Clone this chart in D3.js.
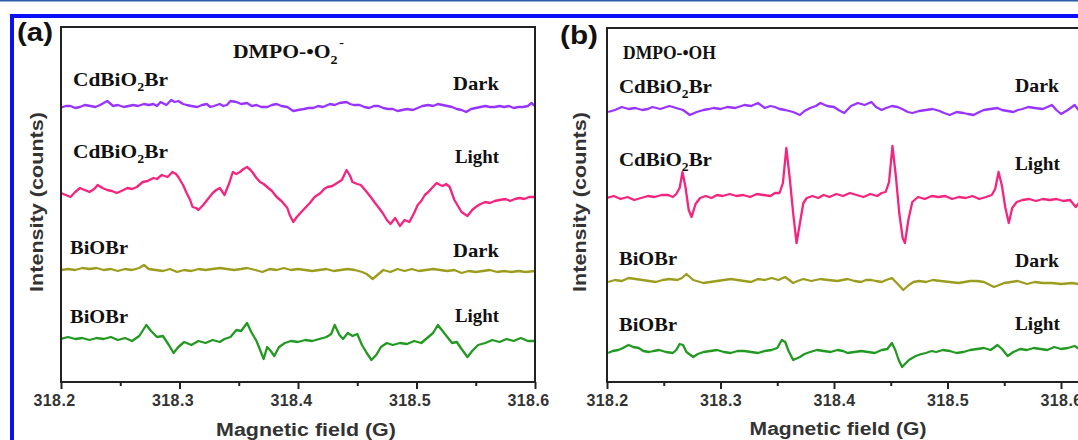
<!DOCTYPE html>
<html>
<head>
<meta charset="utf-8">
<script src="https://cdn.jsdelivr.net/npm/d3@7"></script>
<style>
  body { margin: 0; background: #fff; }
  svg { display: block; }
</style>
</head>
<body>
<div id="chart"></div>
<script>
// Axis ticks (magnetic field, G)
var fieldTicks = [318.2, 318.3, 318.4, 318.5, 318.6];
var minorTicks = [318.25, 318.35, 318.45, 318.55];

// Trace names, top to bottom
var sampleNames = ["CdBiO_2Br", "CdBiO_2Br", "BiOBr", "BiOBr"];
var conditions = ["Dark", "Light", "Dark", "Light"];
var titles = ["DMPO-•O_2^-", "DMPO-•OH"];
var panelTags = ["(a)", "(b)"];

// Stacking offsets of the four spectra (a.u.)
var offsetsA = [275, 189, 112, 43];
var offsetsB = [271, 184, 101, 30];

// (a) DMPO-•O2- spectra: [field, intensity]
var aCdDark = [[318.199,-1],[318.204,1],[318.208,1],[318.212,-1],[318.216,0],[318.220,2],[318.225,1],[318.229,0],[318.233,2],[318.236,4],[318.239,6],[318.244,1],[318.248,2],[318.253,0],[318.257,1],[318.261,2],[318.265,1],[318.270,3],[318.274,2],[318.278,3],[318.281,1],[318.284,5],[318.289,2],[318.293,7],[318.296,5],[318.299,6],[318.303,3],[318.306,2],[318.310,1],[318.315,0],[318.319,2],[318.323,3],[318.326,0],[318.329,1],[318.334,3],[318.337,1],[318.340,2],[318.343,6],[318.348,5],[318.352,3],[318.357,4],[318.361,1],[318.365,2],[318.369,0],[318.374,0],[318.378,2],[318.382,3],[318.386,1],[318.391,0],[318.396,-4],[318.400,-3],[318.405,-2],[318.409,-1],[318.413,-1],[318.417,1],[318.421,0],[318.427,3],[318.431,2],[318.435,4],[318.441,5],[318.444,3],[318.447,2],[318.452,2],[318.456,0],[318.460,-1],[318.464,1],[318.468,1],[318.472,-1],[318.476,-2],[318.480,-2],[318.484,-4],[318.488,-3],[318.492,-2],[318.497,-3],[318.501,-1],[318.505,1],[318.510,2],[318.514,1],[318.518,3],[318.522,2],[318.526,1],[318.530,0],[318.534,-2],[318.538,-3],[318.542,-5],[318.546,-2],[318.550,-1],[318.554,0],[318.558,1],[318.562,0],[318.566,0],[318.570,1],[318.574,0],[318.578,1],[318.582,-1],[318.586,0],[318.590,0],[318.594,1],[318.597,4],[318.600,1]];
var aCdLight = [[318.200,0],[318.204,-2],[318.208,-4],[318.212,1],[318.216,5],[318.220,3],[318.224,1],[318.228,4],[318.231,8],[318.235,5],[318.239,3],[318.243,2],[318.247,0],[318.251,2],[318.256,5],[318.260,4],[318.264,6],[318.269,11],[318.273,12],[318.278,15],[318.281,14],[318.285,18],[318.290,16],[318.294,21],[318.297,19],[318.299,16],[318.303,8],[318.306,0],[318.309,-7],[318.311,-14],[318.314,-15],[318.316,-17],[318.320,-12],[318.324,-6],[318.328,0],[318.331,3],[318.334,5],[318.338,-2],[318.342,10],[318.345,21],[318.348,19],[318.351,21],[318.354,24],[318.357,26],[318.360,23],[318.362,20],[318.365,15],[318.368,11],[318.371,9],[318.374,6],[318.378,2],[318.382,-4],[318.386,-8],[318.391,-15],[318.393,-22],[318.396,-29],[318.399,-24],[318.402,-20],[318.406,-15],[318.410,-10],[318.414,-4],[318.419,0],[318.422,4],[318.425,6],[318.429,7],[318.433,10],[318.437,13],[318.441,23],[318.444,17],[318.446,11],[318.450,9],[318.453,8],[318.458,1],[318.462,-5],[318.465,-10],[318.469,-16],[318.472,-21],[318.475,-27],[318.478,-31],[318.482,-25],[318.486,-33],[318.490,-27],[318.494,-29],[318.498,-20],[318.501,-12],[318.504,-8],[318.507,-2],[318.510,1],[318.513,5],[318.517,10],[318.520,8],[318.522,7],[318.525,9],[318.528,6],[318.532,-7],[318.535,-13],[318.538,-19],[318.543,-23],[318.547,-17],[318.550,-14],[318.554,-11],[318.558,-9],[318.562,-10],[318.566,-8],[318.570,-7],[318.575,-6],[318.579,-8],[318.583,-6],[318.587,-5],[318.591,-6],[318.595,-4],[318.600,-4]];
var aBiDark = [[318.200,0],[318.206,1],[318.212,0],[318.218,2],[318.224,1],[318.230,2],[318.236,0],[318.242,1],[318.248,-1],[318.254,1],[318.260,0],[318.266,2],[318.270,5],[318.274,1],[318.280,0],[318.286,-1],[318.292,1],[318.298,-2],[318.304,0],[318.310,-1],[318.316,1],[318.322,0],[318.328,1],[318.334,2],[318.340,1],[318.346,0],[318.352,1],[318.357,2],[318.364,0],[318.370,-2],[318.376,1],[318.382,0],[318.388,2],[318.394,0],[318.400,1],[318.406,0],[318.412,-1],[318.418,0],[318.424,1],[318.430,-1],[318.436,0],[318.442,1],[318.448,0],[318.454,-2],[318.458,-4],[318.463,-9],[318.468,-4],[318.472,0],[318.478,-2],[318.484,1],[318.490,-1],[318.496,1],[318.502,-1],[318.508,0],[318.514,1],[318.520,0],[318.526,-1],[318.532,0],[318.538,-3],[318.544,-1],[318.550,-2],[318.556,-1],[318.562,0],[318.568,-2],[318.574,-1],[318.580,-2],[318.586,-1],[318.592,-2],[318.600,-1]];
var aBiLight = [[318.200,0],[318.206,2],[318.212,0],[318.218,1],[318.224,-1],[318.230,1],[318.236,0],[318.242,2],[318.248,-1],[318.254,1],[318.260,-2],[318.266,3],[318.272,14],[318.276,8],[318.281,2],[318.286,3],[318.291,-6],[318.295,-14],[318.299,-8],[318.304,-3],[318.310,-6],[318.316,-2],[318.322,-4],[318.328,-1],[318.334,-3],[318.338,0],[318.343,2],[318.348,9],[318.352,8],[318.357,16],[318.361,6],[318.365,-2],[318.369,-14],[318.371,-20],[318.374,-8],[318.377,-12],[318.380,-17],[318.384,-8],[318.389,-4],[318.394,-2],[318.400,-3],[318.406,-1],[318.412,-2],[318.418,0],[318.424,2],[318.428,5],[318.431,14],[318.435,4],[318.438,0],[318.442,6],[318.446,3],[318.450,5],[318.454,-6],[318.458,-14],[318.462,-21],[318.466,-16],[318.470,-8],[318.475,-4],[318.480,-6],[318.486,-4],[318.492,-5],[318.498,-2],[318.504,-4],[318.510,2],[318.514,6],[318.518,14],[318.522,8],[318.526,2],[318.530,-4],[318.534,-3],[318.538,-10],[318.543,-18],[318.547,-12],[318.552,-6],[318.558,-4],[318.564,-1],[318.570,-3],[318.576,0],[318.582,-2],[318.588,1],[318.594,-2],[318.600,-2]];

// (b) DMPO-•OH spectra: [field, intensity]
var bCdDark = [[318.201,-1],[318.207,1],[318.213,4],[318.219,2],[318.225,3],[318.231,1],[318.236,2],[318.240,4],[318.247,2],[318.255,5],[318.261,3],[318.267,1],[318.273,-4],[318.279,-1],[318.285,1],[318.290,2],[318.294,3],[318.300,2],[318.306,4],[318.313,3],[318.321,6],[318.327,5],[318.333,8],[318.339,3],[318.344,5],[318.348,4],[318.352,2],[318.357,1],[318.364,-1],[318.370,-4],[318.374,0],[318.379,3],[318.384,5],[318.388,8],[318.394,5],[318.400,4],[318.404,1],[318.409,-2],[318.415,5],[318.421,8],[318.427,6],[318.433,9],[318.437,4],[318.442,1],[318.446,3],[318.451,5],[318.456,4],[318.460,2],[318.465,-1],[318.469,-2],[318.475,0],[318.481,1],[318.487,2],[318.493,0],[318.497,-2],[318.502,-4],[318.508,-1],[318.514,-2],[318.518,-3],[318.523,-4],[318.528,-1],[318.532,1],[318.538,2],[318.544,3],[318.548,1],[318.553,0],[318.558,-1],[318.562,1],[318.566,2],[318.571,4],[318.577,3],[318.584,2],[318.588,4],[318.592,6],[318.596,1],[318.600,-3],[318.606,1],[318.612,6],[318.616,0],[318.620,-2]];
var bCdLight = [[318.200,0],[318.206,2],[318.212,-1],[318.218,1],[318.224,-2],[318.230,0],[318.236,2],[318.242,1],[318.248,3],[318.254,3],[318.258,1],[318.261,4],[318.264,10],[318.2665,26],[318.269,12],[318.272,-12],[318.2745,-19],[318.278,-6],[318.282,0],[318.287,2],[318.292,0],[318.297,3],[318.302,2],[318.308,4],[318.314,2],[318.320,3],[318.326,1],[318.332,4],[318.338,3],[318.344,2],[318.348,5],[318.352,5],[318.355,15],[318.358,50],[318.361,20],[318.364,-15],[318.367,-45],[318.370,-25],[318.373,-5],[318.376,0],[318.381,2],[318.386,0],[318.391,3],[318.396,1],[318.402,4],[318.408,2],[318.414,5],[318.420,3],[318.426,1],[318.432,4],[318.438,2],[318.442,5],[318.4455,6],[318.4485,16],[318.4515,52],[318.4545,22],[318.4575,-15],[318.4605,-40],[318.4625,-45],[318.4655,-22],[318.469,-4],[318.474,1],[318.480,-1],[318.486,2],[318.492,1],[318.498,2],[318.504,-1],[318.510,1],[318.516,0],[318.522,2],[318.528,-1],[318.534,1],[318.539,3],[318.542,9],[318.545,26],[318.548,12],[318.551,-10],[318.554,-25],[318.557,-10],[318.561,-4],[318.566,-2],[318.572,-1],[318.578,-3],[318.584,-1],[318.590,-2],[318.596,-1],[318.602,-3],[318.608,-2],[318.613,-9],[318.617,-3],[318.620,-2]];
var bBiDark = [[318.201,-1],[318.207,1],[318.213,0],[318.219,3],[318.225,2],[318.231,1],[318.237,0],[318.243,-1],[318.249,1],[318.255,2],[318.262,1],[318.266,3],[318.270,7],[318.276,1],[318.285,-2],[318.291,-1],[318.297,0],[318.303,1],[318.309,2],[318.315,1],[318.321,0],[318.327,-1],[318.333,2],[318.339,1],[318.345,3],[318.351,1],[318.357,4],[318.364,-2],[318.368,0],[318.373,2],[318.380,0],[318.388,2],[318.395,1],[318.403,0],[318.412,2],[318.418,0],[318.424,-1],[318.428,1],[318.433,1],[318.437,0],[318.442,-1],[318.446,1],[318.451,3],[318.457,-4],[318.461,-9],[318.466,-4],[318.470,-1],[318.475,0],[318.481,-1],[318.487,1],[318.494,0],[318.502,-1],[318.510,-2],[318.520,0],[318.526,0],[318.532,-1],[318.541,-6],[318.550,-2],[318.556,-1],[318.562,0],[318.570,-3],[318.577,-1],[318.584,-2],[318.592,-2],[318.600,-3],[318.610,-2],[318.620,-4]];
var bBiLight = [[318.201,-1],[318.205,1],[318.210,2],[318.214,4],[318.219,7],[318.223,5],[318.228,4],[318.232,1],[318.237,0],[318.241,1],[318.246,2],[318.252,0],[318.258,-1],[318.261,2],[318.264,8],[318.267,7],[318.270,0],[318.276,-5],[318.280,-2],[318.285,0],[318.291,1],[318.297,2],[318.303,0],[318.309,-1],[318.315,1],[318.321,1],[318.327,0],[318.333,-1],[318.339,1],[318.345,2],[318.350,4],[318.354,12],[318.357,10],[318.360,1],[318.364,-8],[318.370,-5],[318.374,-2],[318.379,0],[318.385,2],[318.391,1],[318.397,0],[318.403,2],[318.408,1],[318.412,-1],[318.418,0],[318.424,1],[318.430,0],[318.436,-1],[318.442,2],[318.447,3],[318.451,9],[318.454,2],[318.457,-8],[318.460,-15],[318.466,-8],[318.472,-4],[318.477,-2],[318.481,-1],[318.486,1],[318.490,0],[318.496,2],[318.502,1],[318.508,-1],[318.514,0],[318.520,2],[318.526,3],[318.532,4],[318.538,2],[318.544,7],[318.548,3],[318.553,-4],[318.558,0],[318.564,3],[318.570,2],[318.576,4],[318.582,3],[318.588,2],[318.594,5],[318.600,3],[318.606,4],[318.612,6],[318.616,3],[318.620,5]];

var colors = ["#9933ff", "#f5247f", "#9c9c1e", "#229922"];

var W = 1078, H = 440;
var serif = "Liberation Serif, Times New Roman, serif";
var sans = "Liberation Sans, Arial, sans-serif";

var svg = d3.select("#chart").append("svg")
    .attr("width", W)
    .attr("height", H);

// Blue page frame
svg.append("rect").attr("x", 0).attr("y", 0).attr("width", W).attr("height", 1.5).attr("fill", "#2a5ca8");
svg.append("rect").attr("x", 10).attr("y", 14).attr("width", W - 10).attr("height", 4).attr("fill", "#0a10f5");
svg.append("rect").attr("x", 10).attr("y", 14).attr("width", 4).attr("height", H - 14).attr("fill", "#0a10f5");

// Writes "A_2" / "B^-" style strings as tspans
function addRich(t, str, size) {
    var parts = str.match(/_.|\^.|[^_^]+/g);
    var cur = 0;
    parts.forEach(function(p) {
        var ts = t.append("tspan");
        var shift = 0, s = size;
        if (p[0] === "_") { shift = size * 0.3; s = size * 0.65; p = p.slice(1); }
        else if (p[0] === "^") { shift = -size * 0.6; s = size * 0.65; p = p.slice(1); ts.attr("dx", 1.5); }
        ts.attr("dy", shift - cur).style("font-size", s + "px").text(p);
        cur = shift;
    });
}

// Places a text and stretches it horizontally to the given width
function fitText(t, x, y, w, rot) {
    var bw = t.node().getBBox().width;
    t.attr("transform", "translate(" + x + "," + y + ")" + (rot ? " rotate(" + rot + ")" : "") +
        " scale(" + (w / bw) + ",1)");
}

function label(g, str, font, size, x, y, w, opts) {
    opts = opts || {};
    var t = g.append("text")
        .attr("font-family", font)
        .attr("font-weight", "bold")
        .attr("font-size", size)
        .attr("fill", opts.fill || "#111")
        .attr("text-anchor", opts.anchor || "start");
    addRich(t, str, size);
    fitText(t, x, y, w, opts.rot);
    return t;
}

var y = d3.scaleLinear().domain([0, 355]).range([382, 27]);

var panels = [
    {
        x: d3.scaleLinear().domain([318.2, 318.6]).range([61, 535]),
        frame: [61, 27, 535, 382],
        spectra: [aCdDark, aCdLight, aBiDark, aBiLight],
        offsets: offsetsA,
        tag: [17, 41, 36],
        title: [233, 58, 111, 19],
        sample: [[73, 86, 95], [73, 158, 95], [70, 254, 58], [70, 323, 58]],
        cond: [[453, 90, 46], [455, 163, 44], [453, 257, 46], [455, 322, 44]],
        ylab: [43, 202, 180],
        xlab: [306, 436, 180],
        tickDx: -7
    },
    {
        x: d3.scaleLinear().domain([318.2, 318.6]).range([607, 1061]),
        frame: [607, 28, 1100, 382],
        spectra: [bCdDark, bCdLight, bBiDark, bBiLight],
        offsets: offsetsB,
        tag: [560, 44, 38],
        title: [623, 59, 93, 18],
        sample: [[619, 93, 93], [619, 166, 93], [619, 265, 58], [619, 331, 58]],
        cond: [[1015, 92, 44], [1015, 170, 45], [1015, 267, 44], [1015, 330, 45]],
        ylab: [586, 202, 180],
        xlab: [838, 435, 177],
        tickDx: 0
    }
];

panels.forEach(function(p, pi) {
    var g = svg.append("g").attr("class", "panel");
    var f = p.frame;

    g.append("clipPath").attr("id", "clip" + pi)
        .append("rect").attr("x", f[0]).attr("y", f[1])
        .attr("width", f[2] - f[0]).attr("height", f[3] - f[1]);

    // Spectra
    p.spectra.forEach(function(s, i) {
        var line = d3.line()
            .x(function(d) { return p.x(d[0]); })
            .y(function(d) { return y(d[1] + p.offsets[i]); });
        g.append("path")
            .datum(s)
            .attr("clip-path", "url(#clip" + pi + ")")
            .attr("fill", "none")
            .attr("stroke", colors[i])
            .attr("stroke-width", 2.3)
            .attr("stroke-linejoin", "round")
            .attr("d", line);
    });

    // Frame
    g.append("rect")
        .attr("x", f[0]).attr("y", f[1])
        .attr("width", f[2] - f[0]).attr("height", f[3] - f[1])
        .attr("fill", "none")
        .attr("stroke", "#222")
        .attr("stroke-width", 2);

    // Bottom axis, major and minor ticks
    var ax = g.append("g")
        .attr("transform", "translate(0," + f[3] + ")")
        .call(d3.axisBottom(p.x).tickValues(fieldTicks).tickSize(7).tickPadding(6)
            .tickFormat(d3.format(".1f")));
    ax.select(".domain").remove();
    ax.selectAll("line").attr("stroke", "#222").attr("stroke-width", 2);
    ax.selectAll("text")
        .attr("font-family", sans)
        .attr("font-weight", "bold")
        .attr("font-size", 16)
        .attr("letter-spacing", 0.4)
        .attr("fill", "#333")
        .attr("dx", p.tickDx);

    var mx = g.append("g")
        .attr("transform", "translate(0," + f[3] + ")")
        .call(d3.axisBottom(p.x).tickValues(minorTicks).tickSize(4).tickFormat(""));
    mx.select(".domain").remove();
    mx.selectAll("line").attr("stroke", "#222").attr("stroke-width", 2);

    // Texts
    label(g, panelTags[pi], sans, 26, p.tag[0], p.tag[1], p.tag[2]);
    label(g, titles[pi], serif, p.title[3], p.title[0], p.title[1], p.title[2]);
    sampleNames.forEach(function(s, i) {
        var q = p.sample[i];
        label(g, s, serif, 18, q[0], q[1], q[2]);
    });
    conditions.forEach(function(c, i) {
        var q = p.cond[i];
        label(g, c, serif, 18, q[0], q[1], q[2]);
    });
    label(g, "Intensity (counts)", sans, 18, p.ylab[0], p.ylab[1], p.ylab[2],
        {anchor: "middle", rot: -90, fill: "#333"});
    label(g, "Magnetic field (G)", sans, 19, p.xlab[0], p.xlab[1], p.xlab[2],
        {anchor: "middle", fill: "#333"});
});
</script>
</body>
</html>
